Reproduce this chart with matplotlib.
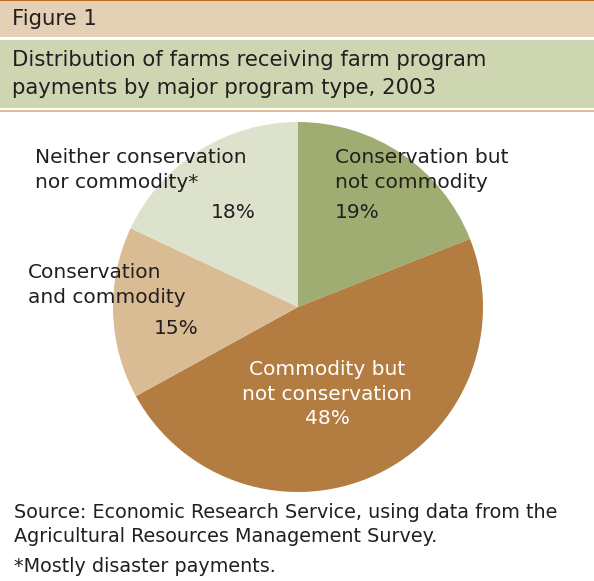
import matplotlib
matplotlib.use('Agg')
import matplotlib.pyplot as plt
from matplotlib.patches import Rectangle

# data
LABELS = ['Conservation but\nnot commodity', 'Commodity but\nnot conservation',
          'Conservation\nand commodity', 'Neither conservation\nnor commodity*']
SHARES = [19, 48, 15, 18]
COLORS = ['#9FAD72', '#B37D41', '#D9BC93', '#DDE2CC']

W, H = 594, 581
C_TXT = '#231F20'
plt.rcParams['font.family'] = ['DejaVu Sans']

fig = plt.figure(figsize=(W/100, H/100), dpi=100)
fig.patch.set_facecolor('white')

def fx(x): return x / W
def fy(y): return 1 - y / H

def band(y0, y1, color):
    fig.patches.append(Rectangle((0, fy(y1)), 1, (y1 - y0) / H, transform=fig.transFigure,
                                 facecolor=color, edgecolor='none', zorder=0))

# header bands
band(0, 1.5, '#B8701E')
band(1.5, 37, '#E4D0B4')
band(39.5, 108, '#CDD5B1')
band(110, 111.5, '#DDBE95')

hs = 15.3
fig.text(fx(12), fy(19), 'Figure 1', fontsize=hs, color=C_TXT, va='center')
fig.text(fx(12), fy(60), 'Distribution of farms receiving farm program',
         fontsize=hs, color=C_TXT, va='center')
fig.text(fx(12), fy(88), 'payments by major program type, 2003',
         fontsize=hs, color=C_TXT, va='center')

# pie
ax = fig.add_axes([fx(113), fy(492), 370/W, 370/H])
ax.pie(SHARES, colors=COLORS, startangle=90, counterclock=False,
       wedgeprops=dict(linewidth=0))
ax.set_xlim(-1, 1); ax.set_ylim(-1, 1)
ax.set_aspect('auto'); ax.axis('off')

fs = 14.5
ls = 1.38
# Neither
fig.text(fx(35), fy(170), LABELS[3], fontsize=fs, color=C_TXT, va='center',
         linespacing=ls)
fig.text(fx(256), fy(213), f'{SHARES[3]}%', fontsize=fs, color=C_TXT, va='center', ha='right')
# Conservation but not commodity
fig.text(fx(335), fy(170), LABELS[0], fontsize=fs, color=C_TXT, va='center',
         linespacing=ls)
fig.text(fx(335), fy(213), f'{SHARES[0]}%', fontsize=fs, color=C_TXT, va='center')
# Conservation and commodity
fig.text(fx(28), fy(285), LABELS[2], fontsize=fs, color=C_TXT, va='center',
         linespacing=ls)
fig.text(fx(199), fy(328), f'{SHARES[2]}%', fontsize=fs, color=C_TXT, va='center', ha='right')
# Commodity but not conservation
fig.text(fx(327), fy(394), LABELS[1] + f'\n{SHARES[1]}%', fontsize=fs, color='white',
         va='center', ha='center', linespacing=ls)

# footer
fs2 = 13.8
fig.text(fx(14), fy(512), 'Source: Economic Research Service, using data from the',
         fontsize=fs2, color=C_TXT, va='center')
fig.text(fx(14), fy(537), 'Agricultural Resources Management Survey.',
         fontsize=fs2, color=C_TXT, va='center')
fig.text(fx(14), fy(566), '*Mostly disaster payments.',
         fontsize=fs2, color=C_TXT, va='center')

fig.savefig('out.png', dpi=100, facecolor='white')
